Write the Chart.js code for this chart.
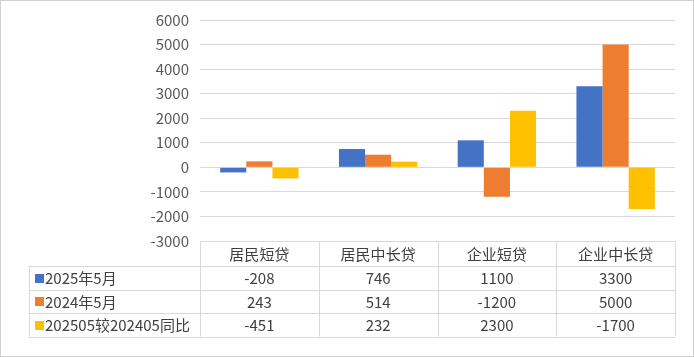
<!DOCTYPE html>
<html><head><meta charset="utf-8">
<script src="https://cdn.jsdelivr.net/npm/chart.js@4/dist/chart.umd.min.js"></script>
<style>html,body{margin:0;padding:0;background:#fff}canvas{display:block}</style>
</head><body>
<canvas id="c" width="694" height="357"></canvas>
<script>
const categories = ['居民短贷', '居民中长贷', '企业短贷', '企业中长贷'];
const seriesNames = ['2025年5月', '2024年5月', '202505较202405同比'];
const may2025 = [-208, 746, 1100, 3300];
const may2024 = [243, 514, -1200, 5000];
const yoyDiff = [-451, 232, 2300, -1700];
const colors = ['#4472C4', '#ED7D31', '#FFC000'];
const FONT = '"Noto Sans CJK SC", "Microsoft YaHei", sans-serif';

const tablePlugin = {
  id: 'dataTable',
  afterDraw(chart) {
    const ctx = chart.ctx;
    const a = chart.chartArea;
    const x = chart.scales.x;
    const top = a.bottom;
    const headerH = 25;
    const rowH = 23.5;
    const legendLeft = 29;
    const n = categories.length;
    const colW = (a.right - a.left) / n;
    const bottom = top + headerH + rowH * 3;
    ctx.save();
    ctx.strokeStyle = '#D9D9D9';
    ctx.lineWidth = 1;
    ctx.beginPath();
    for (let i = 0; i <= n; i++) {
      const px = Math.round(a.left + i * colW) + 0.5;
      ctx.moveTo(px, top); ctx.lineTo(px, bottom);
    }
    ctx.moveTo(legendLeft + 0.5, top + headerH); ctx.lineTo(legendLeft + 0.5, bottom);
    ctx.moveTo(a.left, Math.round(top) + 0.5); ctx.lineTo(a.right, Math.round(top) + 0.5);
    for (let r = 0; r <= 3; r++) {
      const py = Math.round(top + headerH + r * rowH) + 0.5;
      ctx.moveTo(legendLeft, py); ctx.lineTo(a.right, py);
    }
    ctx.stroke();

    ctx.fillStyle = '#404040';
    ctx.font = '15px ' + FONT;
    ctx.textAlign = 'center';
    ctx.textBaseline = 'middle';
    categories.forEach((c, i) => {
      ctx.fillText(c, x.getPixelForValue(i), top + headerH / 2 + 1);
    });
    const rows = [may2025, may2024, yoyDiff];
    rows.forEach((vals, r) => {
      const cy = top + headerH + r * rowH + rowH / 2 + 1;
      vals.forEach((v, i) => {
        ctx.textAlign = 'center';
        ctx.fillStyle = '#404040';
        ctx.fillText(String(v), x.getPixelForValue(i), cy);
      });
      ctx.fillStyle = colors[r];
      ctx.fillRect(35, Math.round(cy - 5), 9, 9);
      ctx.fillStyle = '#404040';
      ctx.textAlign = 'left';
      ctx.fillText(seriesNames[r], 45, cy);
    });
    ctx.strokeStyle = '#D0D0D0';
    ctx.strokeRect(0.5, 0.5, chart.width - 1, chart.height - 1);
    ctx.restore();
  }
};

new Chart(document.getElementById('c'), {
  type: 'bar',
  data: {
    labels: categories,
    datasets: [
      { label: seriesNames[0], data: may2025, backgroundColor: colors[0] },
      { label: seriesNames[1], data: may2024, backgroundColor: colors[1] },
      { label: seriesNames[2], data: yoyDiff, backgroundColor: colors[2] }
    ]
  },
  options: {
    responsive: false,
    animation: false,
    layout: { padding: { left: 0, right: 19, top: 10, bottom: 116 } },
    datasets: { bar: { barPercentage: 1, categoryPercentage: 0.66 } },
    plugins: { legend: { display: false }, tooltip: { enabled: false } },
    scales: {
      x: { display: false },
      y: {
        min: -3000, max: 6000,
        ticks: { stepSize: 1000, color: '#595959', font: { size: 15, family: FONT }, padding: 11,
                 callback: v => String(v) },
        grid: { color: '#D9D9D9', drawTicks: false },
        border: { display: false },
        afterFit(s) { s.width = 200; }
      }
    }
  },
  plugins: [tablePlugin]
});
</script>
</body></html>
